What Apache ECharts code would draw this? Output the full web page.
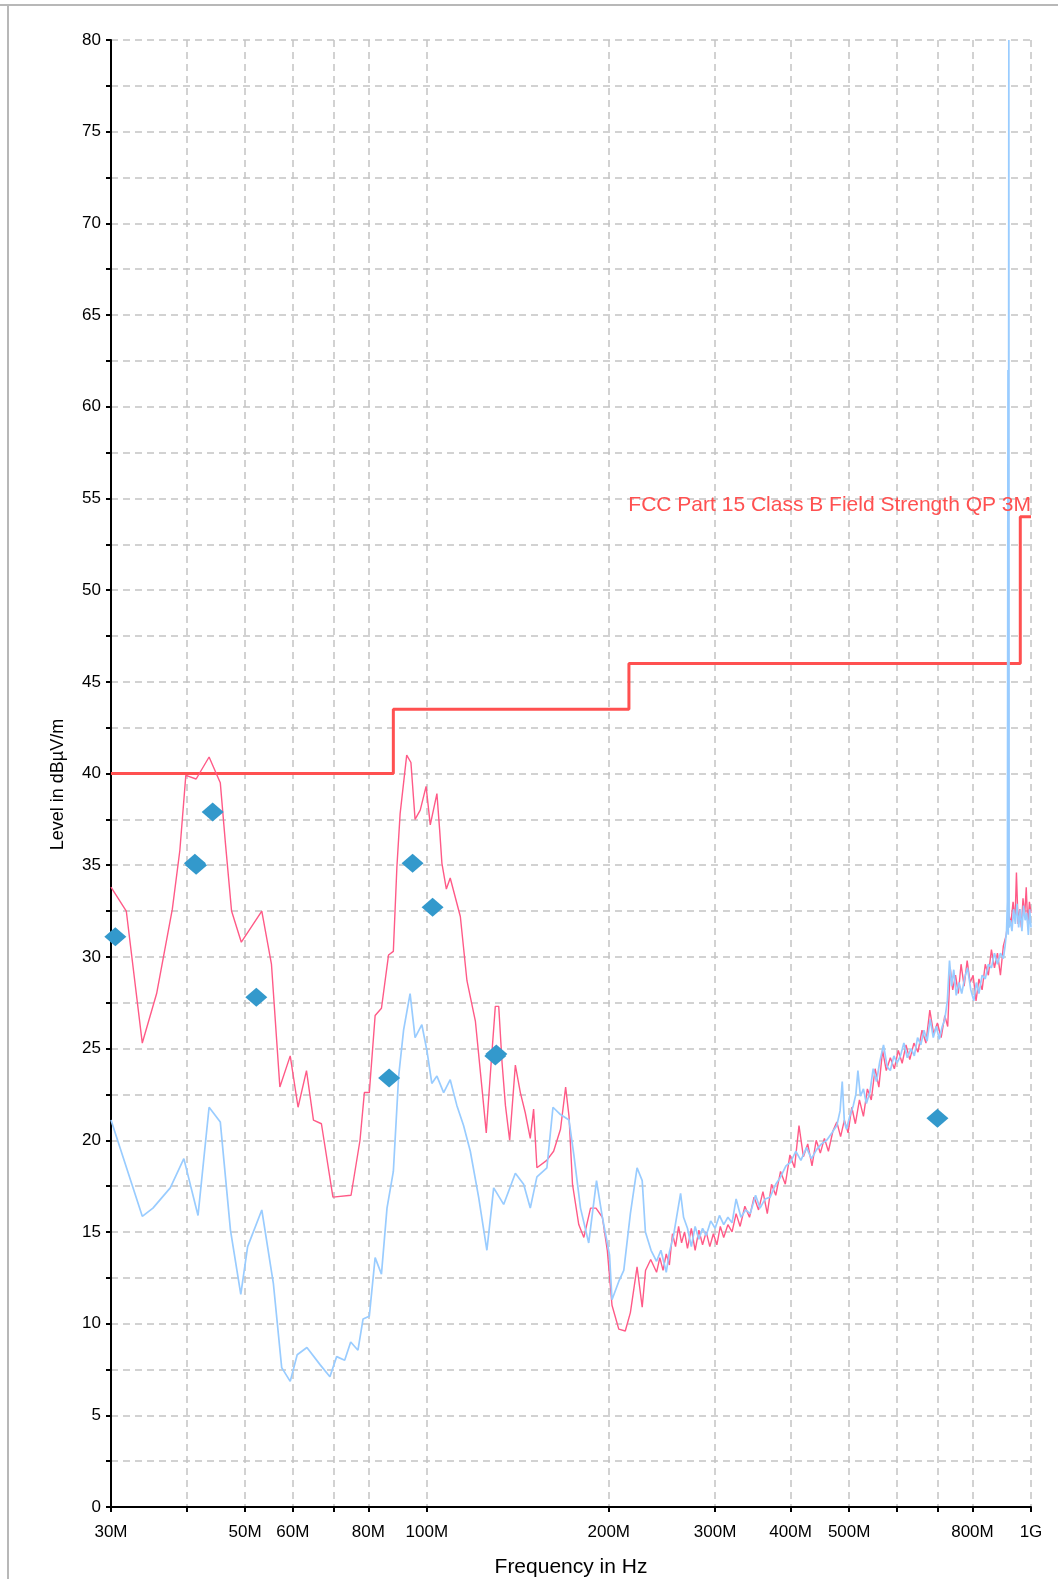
<!DOCTYPE html>
<html>
<head>
<meta charset="utf-8">
<script src="https://cdn.jsdelivr.net/npm/echarts@6/dist/echarts.min.js"></script>
<style>
html,body{margin:0;padding:0;background:#fff;}
#chart{width:1058px;height:1579px;}
</style>
</head>
<body>
<div id="chart"></div>
<script>
// Frequencies in MHz, levels in dBµV/m
const xTickValues = [30, 40, 50, 60, 70, 80, 100, 200, 300, 400, 500, 600, 700, 800, 1000];
const xLabelValues = [30, 50, 60, 80, 100, 200, 300, 400, 500, 800, 1000];

const limitFreq = [30, 88, 88, 216, 216, 960, 960, 1000];
const limitLevel = [40, 40, 43.5, 43.5, 46, 46, 54, 54];
const limitName = 'FCC Part 15 Class B Field Strength QP 3M';

const peakFreq = [30, 31.8, 33.8, 35.7, 37.9, 39.0, 39.9, 41.5, 43.6, 45.5, 46.4, 47.5, 49.3, 53.3, 55.3, 57.1, 59.4, 61.2, 63.2, 64.9, 66.9, 69.9, 74.9, 77.5, 78.8, 80.3, 82.1, 84.1, 86.4, 88.0, 89.2, 90.3, 92.6, 94.1, 95.6, 97.5, 99.7, 101.3, 103.9, 105.0, 105.9, 107.7, 109.3, 113.6, 116.5, 120.3, 123.4, 125.4, 127.3, 129.8, 131.5, 133.2, 134.9, 137.1, 140.1, 142.8, 145.5, 148.3, 150.2, 152.1, 157.9, 162.1, 166.4, 169.7, 171.9, 174.2, 178.4, 181.9, 186.6, 190.5, 195.2, 198.9, 202.5, 207.8, 213.0, 217.2, 222.8, 227.2, 230.1, 234.7,
  240, 243, 246, 249, 252, 255, 258, 261, 264, 267, 270, 274, 278, 282, 286, 290, 294, 298, 302, 306, 310, 315, 320, 325, 330, 336, 342, 348, 354, 360, 366, 372, 378, 385, 392, 399, 406, 413, 420, 427, 434, 441, 448, 455, 462, 470, 477, 484, 491, 498, 505, 512, 520, 528, 536, 544, 552, 560, 568, 576, 585, 594, 603, 612, 621, 630, 640, 650, 660, 670, 680, 690, 700, 710, 720, 728, 735, 742, 750, 758, 766, 775, 784, 793, 802, 811, 820, 830, 840, 850, 860, 870, 880, 890, 900, 910, 918, 926, 934, 941, 946, 952, 958, 964, 970, 976, 982, 988, 994, 1000];
const peakLevel = [33.8, 32.5, 25.3, 28.0, 32.6, 35.8, 39.9, 39.7, 40.9, 39.5, 36.2, 32.5, 30.8, 32.5, 29.6, 22.9, 24.6, 21.8, 23.8, 21.1, 20.9, 16.9, 17.0, 20.0, 22.6, 22.6, 26.8, 27.2, 30.1, 30.3, 34.9, 37.8, 41.0, 40.6, 37.5, 38.0, 39.3, 37.2, 38.9, 36.9, 35.1, 33.7, 34.3, 32.2, 28.7, 26.5, 22.8, 20.4, 23.5, 27.3, 27.3, 24.2, 21.9, 20.0, 24.1, 22.6, 21.5, 20.1, 21.7, 18.5, 18.9, 19.4, 20.6, 22.9, 21.3, 17.6, 15.4, 14.7, 16.3, 16.3, 15.8, 14.0, 11.0, 9.7, 9.6, 10.6, 13.1, 10.9, 12.9, 13.5,
  12.8, 13.6, 12.9, 13.8, 13.2, 14.9, 14.2, 15.3, 14.4, 15.0, 14.1, 15.2, 14.0, 15.1, 14.3, 15.0, 14.2, 14.9, 14.3, 15.3, 14.7, 15.4, 15.0, 16.0, 15.3, 16.4, 15.8, 16.9, 16.2, 17.2, 16.0, 17.6, 17.0, 18.3, 17.6, 19.2, 18.5, 20.8, 19.1, 19.8, 18.6, 20.0, 19.3, 20.1, 19.4, 20.5, 21.0, 20.2, 21.1, 20.4, 21.8, 20.9, 22.2, 21.3, 22.8, 22.2, 23.9, 22.9, 24.9, 23.8, 24.5, 23.9, 24.9, 24.2, 25.2, 24.4, 25.3, 24.8, 26.0, 25.3, 27.1, 25.8, 26.4, 25.6, 26.8, 26.2, 29.4, 28.2, 29.0, 28.0, 29.6, 28.4, 29.8, 28.6, 29.0, 27.6, 28.8, 28.2, 29.6, 29.0, 30.4, 29.4, 30.2, 29.0, 30.6, 31.2, 32.4, 31.8, 33.0, 32.0, 34.6, 31.8, 32.6, 31.6, 33.2, 32.2, 33.8, 31.6, 33.0, 32.4];

const avgFreq = [30, 33.8, 35.2, 37.6, 39.6, 41.8, 43.6, 45.5, 47.3, 49.2, 50.5, 53.3, 55.7, 57.5, 59.4, 61.0, 63.3, 66.6, 69.1, 70.9, 73.1, 74.8, 76.9, 78.4, 80.3, 82.1, 84.1, 85.9, 88.0, 89.8, 91.5, 93.8, 95.6, 98.1, 100, 101.9, 103.9, 106.6, 109.3, 112.1, 115, 118, 121.8, 125.7, 129, 134, 140.1, 144.6, 148.3, 152.1, 158, 161.7, 166.4, 171.9, 175.1, 179.6, 185.3, 190.9, 195.2, 200.6, 202.5, 207.8, 211.8, 217.2, 222.8, 227.2,
  230, 235, 240, 244, 249, 252, 256, 259, 263, 266, 270, 274, 278, 282, 286, 290, 295, 300, 305, 310, 315, 320, 325, 331, 337, 343, 350, 356, 363, 370, 378, 385, 393, 400, 408, 416, 425, 433, 442, 450, 459, 468, 477, 483, 487, 491, 495, 501, 508, 513, 517, 522, 528, 534, 541, 548, 555, 562, 570, 578, 585, 593, 600, 608, 616, 624, 633, 641, 649, 657, 665, 673, 681, 689, 697, 705, 713, 720, 727, 733, 739, 745, 752, 760, 768, 777, 785, 795, 804, 812, 820, 830, 840, 850, 860, 870, 880, 890, 900, 906, 911, 914, 916, 917, 919, 920, 924, 930, 936, 942, 948, 954, 960, 966, 972, 978, 984, 990, 995, 1000];
const avgLevel = [21.1, 15.85, 16.3, 17.4, 19.0, 15.9, 21.8, 21.0, 15.1, 11.6, 14.2, 16.2, 12.2, 7.6, 6.85, 8.3, 8.7, 7.75, 7.1, 8.2, 8.0, 9.0, 8.55, 10.25, 10.4, 13.6, 12.7, 16.3, 18.3, 23.5, 26.0, 28.0, 25.6, 26.3, 24.9, 23.1, 23.5, 22.6, 23.3, 21.9, 20.8, 19.4, 16.9, 14.0, 17.4, 16.5, 18.2, 17.6, 16.3, 18.0, 18.5, 21.8, 21.4, 21.1, 19.2, 16.3, 14.4, 17.8, 15.8, 13.75, 11.3, 12.3, 12.9, 16.0, 18.5, 17.8,
  15.0, 14.0, 13.4, 14.0, 12.8, 13.9, 14.8, 15.8, 17.1, 15.8, 15.2, 14.2, 15.3, 14.6, 15.2, 14.8, 15.6, 15.2, 15.9, 15.4, 15.8, 15.5, 16.8, 15.8, 16.2, 16.0, 17.0, 16.3, 16.8, 16.9, 17.6, 18.0, 18.6, 18.8, 19.4, 18.9, 19.6, 19.0, 19.5, 19.8, 20.0, 20.4, 20.8, 21.6, 23.2, 21.0, 20.6, 21.3, 21.9, 22.5, 23.8, 22.4, 22.8, 22.0, 22.6, 23.9, 23.2, 24.3, 25.2, 24.0, 23.8, 24.6, 24.2, 24.6, 25.3, 24.5, 25.0, 24.6, 25.6, 25.2, 26.0, 25.4, 26.6, 25.6, 26.2, 25.5, 26.2, 26.6, 27.6, 29.8, 28.4, 29.3, 27.9, 28.6, 28.0, 28.9, 29.4, 28.2, 27.6, 28.6, 28.0, 29.0, 28.8, 29.6, 29.4, 30.2, 29.6, 30.2, 29.9, 30.6, 31.4, 33.0, 62.0, 31.2, 80, 31.6, 32.0, 31.4, 32.6, 31.8, 32.9, 31.6, 32.6, 31.4, 32.8, 32.0, 32.4, 31.2, 32.6, 31.6];

const qpFreq = [30.5, 41.3, 41.5, 44.2, 52.2, 86.6, 94.7, 102.2, 129.8, 130.3, 700];
const qpLevel = [31.1, 35.1, 35.0, 37.9, 27.8, 23.4, 35.1, 32.7, 24.6, 24.7, 21.2];

const zip = (a, b) => a.map((v, i) => [v, b[i]]);
const fmtFreq = v => (v >= 1000 ? (v / 1000) + 'G' : v + 'M');
const FONT = 'Liberation Sans, Arial, sans-serif';

const chart = echarts.init(document.getElementById('chart'), null, {renderer: 'canvas'});
chart.setOption({
  animation: false,
  backgroundColor: '#ffffff',
  textStyle: {fontFamily: FONT},
  graphic: [
    {type: 'line', shape: {x1: 0, y1: 5, x2: 1058, y2: 5}, style: {stroke: '#b8b8b8', lineWidth: 2}},
    {type: 'line', shape: {x1: 8, y1: 5, x2: 8, y2: 1579}, style: {stroke: '#b8b8b8', lineWidth: 2}}
  ],
  grid: {left: 111, right: 27, top: 40, bottom: 72, containLabel: false, outerBoundsMode: 'none'},
  xAxis: {
    type: 'log', logBase: 10, min: 30, max: 1000,
    name: 'Frequency in Hz', nameLocation: 'middle', nameGap: 50,
    nameTextStyle: {fontSize: 21, color: '#000', fontFamily: FONT},
    axisLine: {lineStyle: {color: '#000', width: 2}},
    axisTick: {show: true, customValues: xTickValues, length: 5, lineStyle: {color: '#000', width: 2}},
    axisLabel: {customValues: xLabelValues, formatter: fmtFreq, fontSize: 17, color: '#000', margin: 17, fontFamily: FONT},
    splitLine: {show: true, lineStyle: {type: [7, 5], color: '#c4c4c4', width: 1.5}}
  },
  yAxis: {
    type: 'value', min: 0, max: 80, interval: 2.5,
    name: 'Level in dB\u00b5V/m', nameLocation: 'middle', nameGap: 44,
    nameTextStyle: {fontSize: 18, color: '#000', fontFamily: FONT, padding: [0, 0, 0, -22]},
    axisLine: {show: true, lineStyle: {color: '#000', width: 2}},
    axisTick: {show: true, length: 5, lineStyle: {color: '#000', width: 2}},
    axisLabel: {formatter: v => (v % 5 === 0 ? String(v) : ''), fontSize: 17, color: '#000', margin: 10, fontFamily: FONT},
    splitLine: {show: true, lineStyle: {type: [7, 5], color: '#c4c4c4', width: 1.5}}
  },
  series: [
    {
      name: limitName, type: 'line', data: zip(limitFreq, limitLevel), symbol: 'none', z: 2,
      lineStyle: {color: '#ff5050', width: 3}, itemStyle: {color: '#ff5050'},
      markPoint: {
        symbol: 'circle', symbolSize: 0, silent: true,
        data: [{coord: [1000, 54.65]}],
        label: {show: true, position: 'left', distance: 0, formatter: limitName, color: '#ff5050', fontSize: 21, fontFamily: FONT}
      }
    },
    {
      name: 'Peak', type: 'line', data: zip(peakFreq, peakLevel), symbol: 'none', z: 3,
      lineStyle: {color: '#ff5a87', width: 1.4}
    },
    {
      name: 'Average', type: 'line', data: zip(avgFreq, avgLevel), symbol: 'none', z: 4,
      lineStyle: {color: '#99ccff', width: 1.7}
    },
    {
      name: 'QP', type: 'scatter', data: zip(qpFreq, qpLevel), symbol: 'diamond', symbolSize: [22, 19], z: 5,
      itemStyle: {color: '#3399cc', opacity: 1}
    }
  ]
});
</script>
</body>
</html>
